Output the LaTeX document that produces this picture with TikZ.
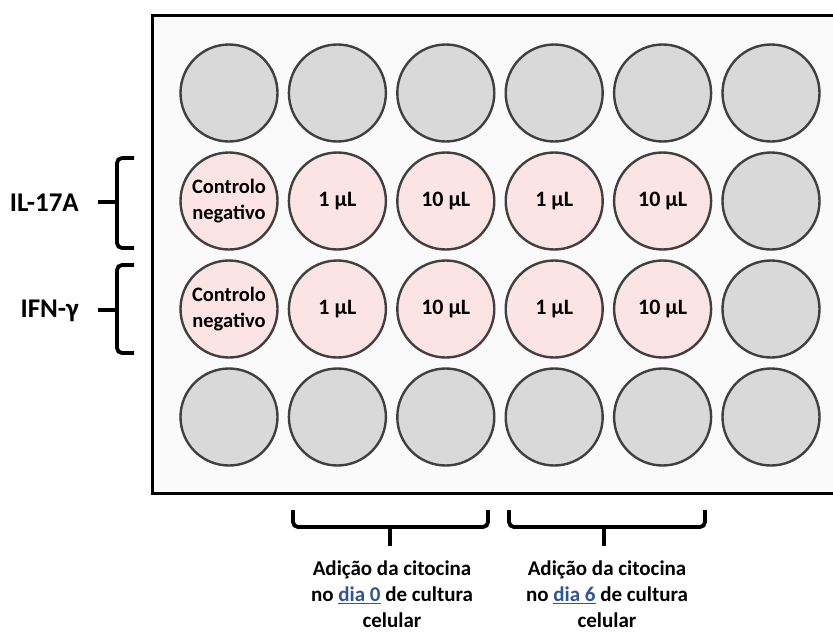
\documentclass[tikz,border=0pt]{standalone}
\usepackage{fontspec}
\setmainfont{Carlito}
\usepackage{xcolor}
\definecolor{platefill}{HTML}{FAFAFA}
\definecolor{wellgray}{HTML}{D9D9D9}
\definecolor{wellpink}{HTML}{FCE4E4}
\definecolor{wellline}{HTML}{404040}
\definecolor{linkblue}{HTML}{2F5597}
\newcommand{\daylink}[1]{\textcolor{linkblue}{\underline{#1}}}
\begin{document}
\begin{tikzpicture}[x=1pt,y=-1pt,
  well/.style={circle,draw=wellline,line width=2.4pt,minimum size=97pt,inner sep=0pt,
    align=center,font=\bfseries\fontsize{20.5}{25.5}\selectfont},
  emptywell/.style={well,fill=wellgray},
  samplewell/.style={well,fill=wellpink},
  dosewell/.style={samplewell,font=\bfseries\fontsize{22}{26}\selectfont},
  bracket/.style={line width=3.8pt,rounded corners=5pt,line cap=butt},
  sidelabel/.style={font=\bfseries\fontsize{27}{30}\selectfont,inner sep=0pt},
  footlabel/.style={font=\bfseries\fontsize{21}{26}\selectfont,align=center,inner sep=0pt}]
\useasboundingbox (0,0) rectangle (833,635);
\clip (0,0) rectangle (833,635);

% plate
\draw[line width=3pt,fill=platefill] (152,15) rectangle (840,493);

% wells: columns and rows
\def\colA{229}\def\colB{337.4}\def\colC{445.8}\def\colD{554.2}\def\colE{662.6}\def\colF{771}
\def\rowA{93}\def\rowB{201}\def\rowC{309}\def\rowD{417}

% top row
\node[emptywell] (a1) at (\colA,\rowA) {};
\node[emptywell] (a2) at (\colB,\rowA) {};
\node[emptywell] (a3) at (\colC,\rowA) {};
\node[emptywell] (a4) at (\colD,\rowA) {};
\node[emptywell] (a5) at (\colE,\rowA) {};
\node[emptywell] (a6) at (\colF,\rowA) {};
% IL-17A row
\node[samplewell] (b1) at (\colA,\rowB) {Controlo\\negativo};
\node[dosewell] (b2) at (\colB,\rowB) {1 µL};
\node[dosewell] (b3) at (\colC,\rowB) {10 µL};
\node[dosewell] (b4) at (\colD,\rowB) {1 µL};
\node[dosewell] (b5) at (\colE,\rowB) {10 µL};
\node[emptywell] (b6) at (\colF,\rowB) {};
% IFN-gamma row
\node[samplewell] (c1) at (\colA,\rowC) {Controlo\\negativo};
\node[dosewell] (c2) at (\colB,\rowC) {1 µL};
\node[dosewell] (c3) at (\colC,\rowC) {10 µL};
\node[dosewell] (c4) at (\colD,\rowC) {1 µL};
\node[dosewell] (c5) at (\colE,\rowC) {10 µL};
\node[emptywell] (c6) at (\colF,\rowC) {};
% bottom row
\node[emptywell] (d1) at (\colA,\rowD) {};
\node[emptywell] (d2) at (\colB,\rowD) {};
\node[emptywell] (d3) at (\colC,\rowD) {};
\node[emptywell] (d4) at (\colD,\rowD) {};
\node[emptywell] (d5) at (\colE,\rowD) {};
\node[emptywell] (d6) at (\colF,\rowD) {};

% row brackets and labels
\draw[bracket] (134,158) -- (117,158) -- (117,248) -- (134,248);
\draw[bracket] (117,202) -- (98,202);
\node[sidelabel,anchor=east] (il17) at (79,203) {IL-17A};

\draw[bracket] (134,265) -- (117,265) -- (117,353) -- (134,353);
\draw[bracket] (117,310) -- (98,310);
\node[sidelabel,anchor=east] (ifng) at (79,311) {IFN-γ};

% column brackets and labels
\draw[bracket] (293,510) -- (293,527) -- (488,527) -- (488,510);
\draw[bracket] (390,527) -- (390,546);
\node[footlabel,anchor=north] (day0) at (392,561)
  {Adição da citocina\\no \daylink{dia 0} de cultura\\celular};

\draw[bracket] (509,510) -- (509,527) -- (705,527) -- (705,510);
\draw[bracket] (604,527) -- (604,546);
\node[footlabel,anchor=north] (day6) at (607,561)
  {Adição da citocina\\no \daylink{dia 6} de cultura\\celular};
\end{tikzpicture}
\end{document}
